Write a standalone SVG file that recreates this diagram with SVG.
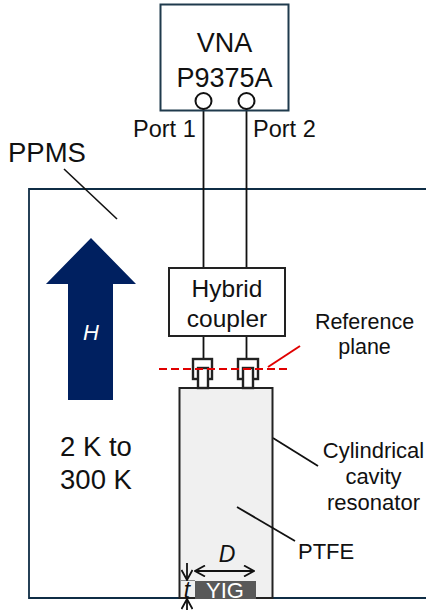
<svg xmlns="http://www.w3.org/2000/svg" width="426" height="610" viewBox="0 0 426 610">
<defs>
<marker id="oa" viewBox="0 0 12 12" refX="11" refY="6" markerWidth="12" markerHeight="12" markerUnits="userSpaceOnUse" orient="auto-start-reverse"><path d="M1 0.500L11 6L1 11.500" fill="none" stroke="#111" stroke-width="1.800"/></marker>
</defs>
<style>
text{font-family:"Liberation Sans",Arial,sans-serif;fill:#111}
.k{fill:#fff;stroke:#222;stroke-width:2.400}
.l{fill:none;stroke:#111;stroke-width:1.800}
.c{text-anchor:middle}
</style>
<g id="ppms"><path d="M426 189H29V598H426" fill="none" stroke="#0f2d45" stroke-width="1.800"/></g>
<g id="connectors">
<path class="l" d="M203.500 109V268M246.500 109V268M203.500 336V360M246.500 336V360"/>
<path d="M64 169L117 219" fill="none" stroke="#111" stroke-width="1.600"/>
<path d="M268 367L300 346" fill="none" stroke="#e00000" stroke-width="2"/>
<path d="M273 438L318 466" class="l"/>
</g>
<g id="vna"><rect x="160.500" y="4.500" width="128" height="106" fill="none" stroke="#1f3a4d" stroke-width="2"/>
<text class="c" x="224.500" y="52" font-size="27">VNA</text><text class="c" x="224.500" y="87" font-size="27">P9375A</text>
<circle cx="203.500" cy="101" r="8" fill="none" stroke="#111" stroke-width="2"/><circle cx="246.500" cy="101" r="8" fill="none" stroke="#111" stroke-width="2"/></g>
<g id="port1"><text x="133" y="137" font-size="23.500">Port 1</text></g>
<g id="port2"><text x="253" y="137" font-size="23.500">Port 2</text></g>
<g id="ppms-label"><text x="8" y="162" font-size="27.500">PPMS</text></g>
<g id="field"><path d="M91 238L136 284H113V400H68V284H46Z" fill="#002060"/><text class="c" x="91" y="340" font-size="22" font-style="italic" style="fill:#fff">H</text></g>
<g id="temp"><text class="c" x="96" y="456" font-size="27.500">2 K to</text><text class="c" x="96" y="489" font-size="27.500">300 K</text></g>
<g id="coupler"><rect x="169" y="268" width="116" height="68" fill="#fff" stroke="#222" stroke-width="2"/>
<text class="c" x="227" y="297" font-size="24.500">Hybrid</text><text class="c" x="227" y="327" font-size="24.500">coupler</text></g>
<g id="reference"><text class="c" x="364.500" y="329" font-size="21.500">Reference</text><text class="c" x="364.500" y="354" font-size="21.500">plane</text></g>
<g id="resonator"><rect x="179.500" y="388" width="93" height="210" fill="#f0f0f0" stroke="#222" stroke-width="2"/></g>
<g id="connector-left"><rect class="k" x="193" y="359" width="19" height="20"/><rect class="k" x="198" y="368" width="10" height="20"/></g>
<g id="connector-right"><rect class="k" x="238" y="359" width="20" height="20"/><rect class="k" x="243" y="368" width="10" height="20"/></g>
<g id="plane"><path d="M159 369H289" fill="none" stroke="#e00000" stroke-width="2" stroke-dasharray="8 4"/></g>
<g id="cavity-label"><text class="c" x="373.500" y="458" font-size="22">Cylindrical</text><text class="c" x="373.500" y="484" font-size="22">cavity</text><text class="c" x="373.500" y="510" font-size="22">resonator</text></g>
<g id="ptfe"><text x="298" y="559" font-size="22">PTFE</text><path d="M237 507L295 541" class="l"/></g>
<g id="yig"><rect x="195" y="581" width="61" height="18" fill="#595959"/><text class="c" x="225" y="598" font-size="22" style="fill:#fff">YIG</text></g>
<g id="d"><text class="c" x="227" y="562" font-size="23" font-style="italic">D</text><path d="M195 571H254" class="l" marker-start="url(#oa)" marker-end="url(#oa)"/></g>
<g id="t"><path d="M180 580.500H195" fill="none" stroke="#888" stroke-width="1"/><text class="c" x="187" y="598" font-size="23" font-style="italic">t</text><path d="M187 563V580" class="l" marker-end="url(#oa)"/><path d="M187 610V599" class="l" marker-end="url(#oa)"/></g>
</svg>
